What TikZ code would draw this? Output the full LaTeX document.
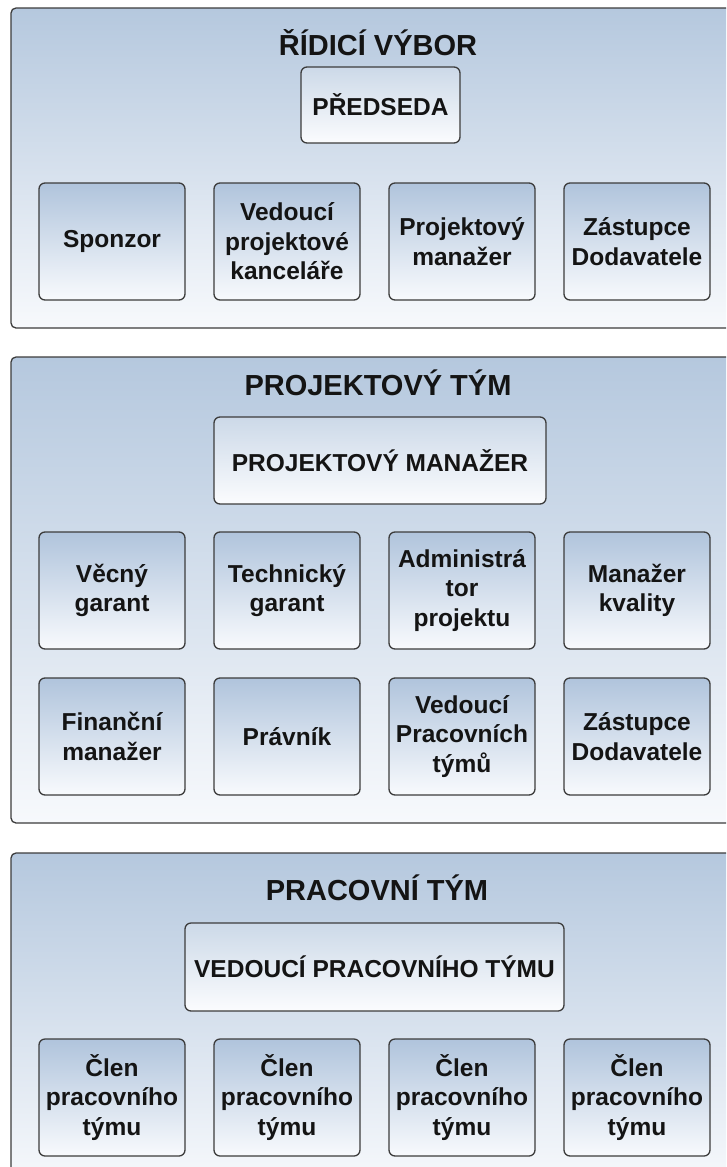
\documentclass[tikz,border=0pt]{standalone}
\usepackage{fontspec}
\setmainfont{Liberation Sans}
\definecolor{secTop}{HTML}{B5C8DE}
\definecolor{secBot}{HTML}{F7F9FC}
\definecolor{boxTop}{HTML}{B0C4DC}
\definecolor{boxBot}{HTML}{F8FAFD}
\definecolor{headTop}{HTML}{CCD9E8}
\definecolor{headBot}{HTML}{FBFCFE}
\definecolor{edge}{HTML}{3C3C3C}
\definecolor{ink}{HTML}{141414}
\tikzset{
  section/.style={draw=edge, line width=1.3pt, rounded corners=5pt, top color=secTop, bottom color=secBot},
  member/.style={draw=edge, line width=1.3pt, rounded corners=6pt, top color=boxTop, bottom color=boxBot,
    minimum width=146pt, minimum height=117pt, inner sep=0pt, align=center, text=ink,
    font=\fontsize{24.5}{29.5}\selectfont\bfseries},
  head/.style={draw=edge, line width=1.3pt, rounded corners=6pt, top color=headTop, bottom color=headBot,
    inner sep=0pt, align=center, text=ink, font=\fontsize{24.5}{29.5}\selectfont\bfseries},
  title/.style={anchor=base, text=ink, inner sep=0pt, font=\fontsize{29}{34}\selectfont\bfseries}
}
\begin{document}
\begin{tikzpicture}[x=1pt,y=-1pt]
\clip (0,0) rectangle (726,1167);
\fill[white] (0,0) rectangle (726,1167);
% sections
\path[section] (11,8) rectangle (745,328);
\path[section] (11,357) rectangle (745,823);
\path[section] (11,853) rectangle (745,1185);
% section 1
\node[title] (t1) at (378,55) {ŘÍDICÍ VÝBOR};
\node[head, minimum width=159pt, minimum height=76pt] (pred) at (380.5,105) {PŘEDSEDA};
\node[member] (s1a) at (112,241.5) {Sponzor};
\node[member] (s1b) at (287,241.5) {Vedoucí\\projektové\\kanceláře};
\node[member] (s1c) at (462,241.5) {Projektový\\manažer};
\node[member] (s1d) at (637,241.5) {Zástupce\\Dodavatele};
% section 2
\node[title] (t2) at (378,395) {PROJEKTOVÝ TÝM};
\node[head, minimum width=332pt, minimum height=87pt] (pm) at (380,460.5) {PROJEKTOVÝ MANAŽER};
\node[member] (s2a) at (112,590.5) {Věcný\\garant};
\node[member] (s2b) at (287,590.5) {Technický\\garant};
\node[member] (s2c) at (462,590.5) {Administrá\\tor\\projektu};
\node[member] (s2d) at (637,590.5) {Manažer\\kvality};
\node[member] (s2e) at (112,736.5) {Finanční\\manažer};
\node[member] (s2f) at (287,736.5) {Právník};
\node[member] (s2g) at (462,736.5) {Vedoucí\\Pracovních\\týmů};
\node[member] (s2h) at (637,736.5) {Zástupce\\Dodavatele};
% section 3
\node[title] (t3) at (377,900) {PRACOVNÍ TÝM};
\node[head, minimum width=379pt, minimum height=88pt] (vpt) at (374.5,967) {VEDOUCÍ PRACOVNÍHO TÝMU};
\node[member] (s3a) at (112,1097.5) {Člen\\pracovního\\týmu};
\node[member] (s3b) at (287,1097.5) {Člen\\pracovního\\týmu};
\node[member] (s3c) at (462,1097.5) {Člen\\pracovního\\týmu};
\node[member] (s3d) at (637,1097.5) {Člen\\pracovního\\týmu};
\end{tikzpicture}
\end{document}
